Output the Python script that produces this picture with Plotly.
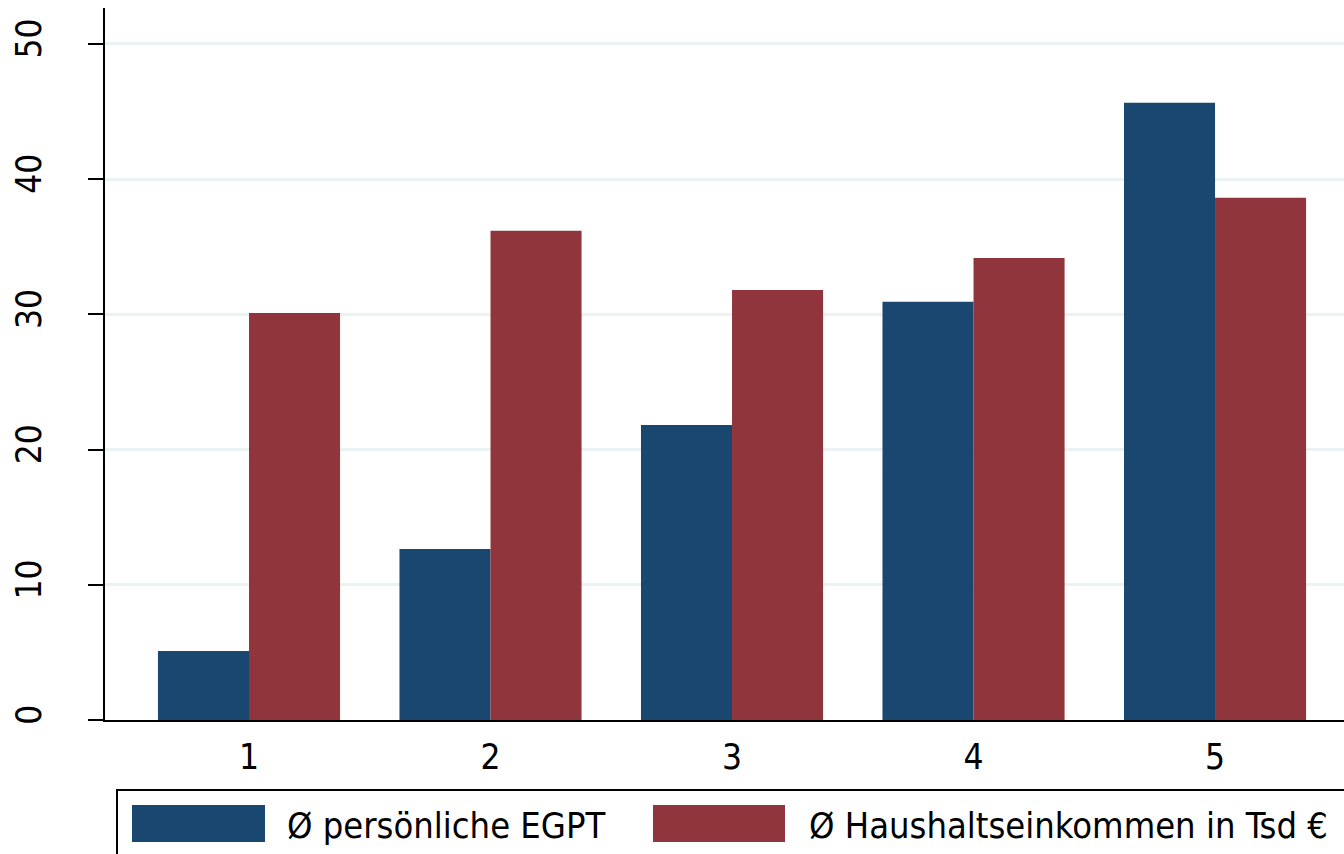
import plotly.graph_objects as go

categories = [1, 2, 3, 4, 5]
egpt = [5.1, 12.65, 21.82, 30.92, 45.64]
hh_income = [30.1, 36.17, 31.8, 34.17, 38.61]
series_names = ["Ø persönliche EGPT", "Ø Haushaltseinkommen in Tsd €"]
y_ticks = [0, 10, 20, 30, 40, 50]

BLUE = "#1A476F"
RED = "#90353B"
GRID = "#EAF2F3"
FONT = "DejaVu Sans Condensed, Liberation Sans, sans-serif"

W, H = 1344, 854
# desired plot area in page pixels
PL, PT, PR, PB = 105, 8, 1344, 720
L, T = PL, PT
PW, PH = PR - PL, PB - PT
R = W - L - PW
B = H - T - PH

def px_x(x):
    return (x - PL) / PW

def px_y(y):
    return (PB - y) / PH

fig = go.Figure()
fig.add_trace(go.Bar(x=categories, y=egpt, name=series_names[0],
                     marker=dict(color=BLUE, line=dict(width=0)), showlegend=False))
fig.add_trace(go.Bar(x=categories, y=hh_income, name=series_names[1],
                     marker=dict(color=RED, line=dict(width=0)), showlegend=False))

fig.update_layout(
    width=W, height=H,
    margin=dict(l=L, r=R, t=T, b=B, pad=0),
    paper_bgcolor="white", plot_bgcolor="white",
    barmode="group", bargap=0.246, bargroupgap=0,
    font=dict(family=FONT, size=35, color="black"),
    xaxis=dict(range=[0.4037, 5.534], tickvals=categories,
               ticktext=[str(c) for c in categories],
               showgrid=False, zeroline=False, showline=True,
               linecolor="black", linewidth=2, ticks="",
               ticklabelstandoff=5,
               tickfont=dict(size=35)),
    yaxis=dict(range=[0, 52.65], tickvals=y_ticks,
               showgrid=True, gridcolor=GRID, gridwidth=3,
               zeroline=False, showline=True, linecolor="black", linewidth=2,
               ticks="outside", ticklen=15, tickwidth=2, tickcolor="black",
               tickangle=-90, ticklabelstandoff=33,
               tickfont=dict(size=35)),
)

# Legend box (Stata style) drawn in paper coordinates
fig.add_shape(type="rect", xref="paper", yref="paper",
              x0=px_x(117), x1=px_x(1370), y0=px_y(880), y1=px_y(790),
              line=dict(color="black", width=2), fillcolor="rgba(0,0,0,0)")
swatches = [(132, 265, 285, BLUE), (653, 785, 807, RED)]
for (sx0, sx1, tx, col), name in zip(swatches, series_names):
    fig.add_shape(type="rect", xref="paper", yref="paper",
                  x0=px_x(sx0), x1=px_x(sx1), y0=px_y(842), y1=px_y(805),
                  line=dict(width=0), fillcolor=col)
    fig.add_annotation(xref="paper", yref="paper", x=px_x(tx), y=px_y(825),
                       text=name, showarrow=False, xanchor="left", yanchor="middle",
                       font=dict(family=FONT, size=36, color="black"))

fig.write_html(
    "out.html",
    config={"displayModeBar": False},
    post_script="document.body.style.margin='0';"
                "document.documentElement.style.overflow='hidden';"
                "document.body.style.overflow='hidden';",
)
